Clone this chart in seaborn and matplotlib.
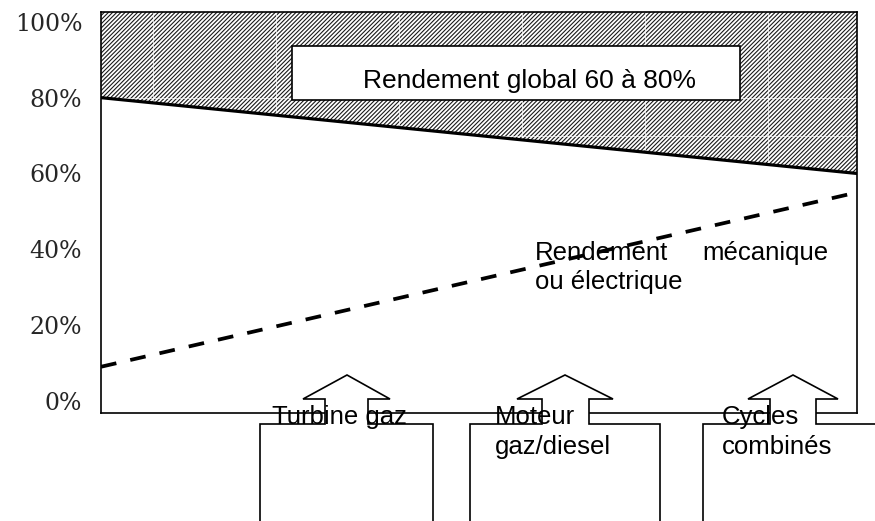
import numpy as np
import pandas as pd
import matplotlib.pyplot as plt
import matplotlib.patches as mpatches
import seaborn as sns

# data
x_pos = [0, 1]
rendement_global = [80, 60]      # upper bound of overall efficiency (%)
rendement_meca = [9, 55]         # mechanical / electrical efficiency (%)
y_ticks = [0, 20, 40, 60, 80, 100]
y_labels = ['0%', '20%', '40%', '60%', '80%', '100%']
grid_y = [0, 10, 20, 30, 40, 50, 60, 70, 80]
grid_x = [0.069, 0.232, 0.394, 0.557, 0.720, 0.882]
y_lim = (-3.2, 102.6)

W, H = 875, 521


def fx(px):
    return px / W


def fy(py):
    return 1 - py / H


sns.set_style("white")
plt.rcParams['hatch.linewidth'] = 0.8

fig = plt.figure(figsize=(W / 100, H / 100), dpi=100)
ax = fig.add_axes([fx(101), fy(413), (857 - 101) / W, (413 - 12) / H])

df = pd.DataFrame({'x': x_pos, 'global': rendement_global, 'meca': rendement_meca})

# hatched zone above the overall efficiency line
ax.fill_between(df['x'], df['global'], y_lim[1], facecolor='white',
                edgecolor='#1a1a1a', hatch='////////', linewidth=0, zorder=1)

# faint white grid, only visible through the hatching
for g in grid_y:
    ax.axhline(g, color='white', lw=0.5, zorder=1.5)
for g in grid_x:
    ax.axvline(g, color='white', lw=0.5, zorder=1.5)

sns.lineplot(data=df, x='x', y='global', color='black', lw=2.3, ax=ax, zorder=3)
sns.lineplot(data=df, x='x', y='meca', color='black', lw=2.7,
             linestyle=(0, (4.2, 3.8)), ax=ax, zorder=3)

ax.set_xlim(0, 1)
ax.set_ylim(*y_lim)
ax.set_xticks([])
ax.set_yticks(y_ticks)
ax.set_yticklabels(y_labels, family='DejaVu Serif', fontsize=17)
ax.tick_params(axis='y', length=0, pad=13.5)
ax.set_xlabel('')
ax.set_ylabel('')
for s in ax.spines.values():
    s.set_color('black')
    s.set_linewidth(1.2)

# label box inside the hatched area
ax.add_patch(mpatches.Rectangle((0.2526, 0.7805), 0.5926, 0.1345, transform=ax.transAxes,
                                facecolor='white', edgecolor='black', lw=1.2, zorder=4))

font = dict(family=['Liberation Sans', 'DejaVu Sans'], fontsize=18.5, color='black')
fig.text(fx(363), fy(88), 'Rendement global 60 à 80%', va='baseline', zorder=5,
         **{**font, 'fontsize': 19})
fig.text(fx(535), fy(260), 'Rendement', va='baseline', **font)
fig.text(fx(828), fy(260), 'mécanique', va='baseline', ha='right', **font)
fig.text(fx(535), fy(289), 'ou électrique', va='baseline', **font)

# block arrows pointing up into the chart
arrows = [
    dict(tip=347, head=(303, 390), shaft=(325, 368), box=(260, 433)),
    dict(tip=565, head=(517, 613), shaft=(542, 589), box=(470, 660)),
    dict(tip=793, head=(748, 838), shaft=(770, 816), box=(703, 900)),
]
for a in arrows:
    pts = [(a['box'][0], 540), (a['box'][0], 424), (a['shaft'][0], 424),
           (a['shaft'][0], 399), (a['head'][0], 399), (a['tip'], 375),
           (a['head'][1], 399), (a['shaft'][1], 399), (a['shaft'][1], 424),
           (a['box'][1], 424), (a['box'][1], 540)]
    fig.patches.append(mpatches.Polygon([(fx(p), fy(q)) for p, q in pts], closed=False,
                                        transform=fig.transFigure, figure=fig,
                                        facecolor='white', edgecolor='black', lw=1.2, zorder=2))

fig.text(fx(272), fy(424), 'Turbine gaz', va='baseline', zorder=5, **font)
fig.text(fx(495), fy(424), 'Moteur', va='baseline', zorder=5, **font)
fig.text(fx(495), fy(454), 'gaz/diesel', va='baseline', zorder=5, **font)
fig.text(fx(722), fy(424), 'Cycles', va='baseline', zorder=5, **font)
fig.text(fx(722), fy(454), 'combinés', va='baseline', zorder=5, **font)

fig.savefig('out.png', dpi=100)
